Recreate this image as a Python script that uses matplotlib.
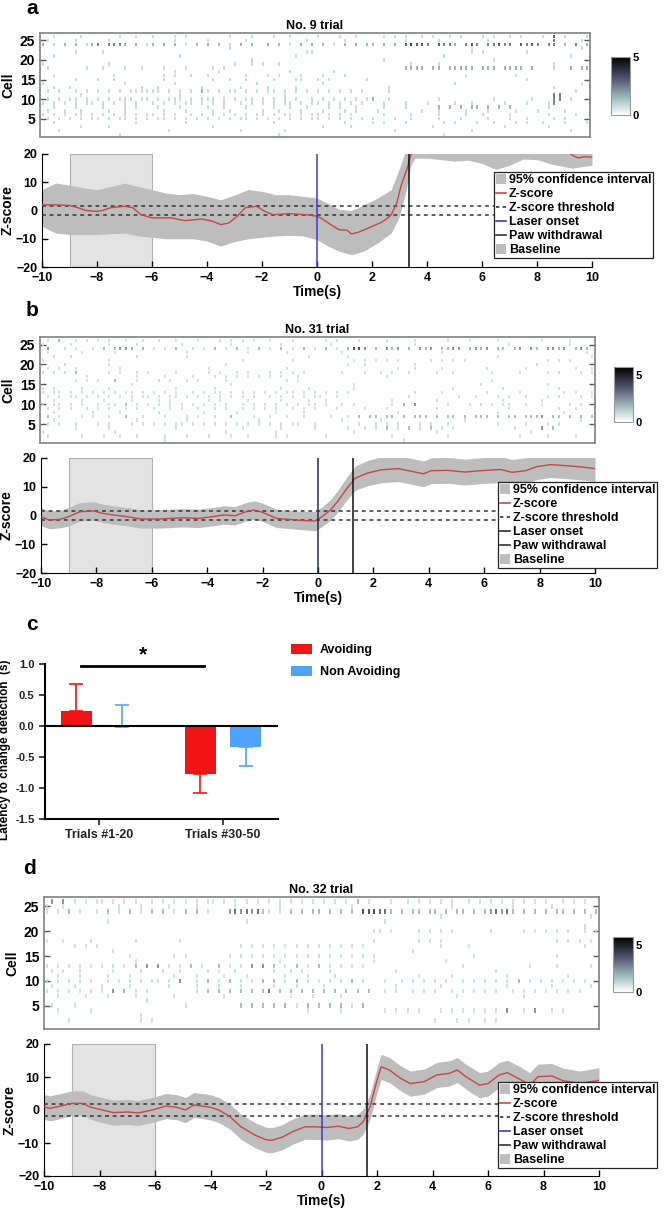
import numpy as np
import matplotlib
matplotlib.use("Agg")
import matplotlib.pyplot as plt
from matplotlib.patches import Patch, Rectangle
from matplotlib.lines import Line2D
from matplotlib.colors import Normalize

plt.rcParams['font.family'] = ['Liberation Sans', 'DejaVu Sans']
plt.rcParams['font.weight'] = 'bold'
plt.rcParams['axes.labelweight'] = 'bold'

W, H = 666, 1213

# ---------------- raster data (rows: cell 26 at top ... cell 1 at bottom; 100 bins of 0.2 s) -------------
raster_a = [
    "..1....1.. ....1..1.. 1...1.1... ....1...1. ..1..1.... 1...1..1.. ..1.1.1..1 .1..1.1... 1.1..1.1.. .1.4.1...1",
    ".1....1... ..1....... ....1..... 1......1.. ........1. .....1.... ......1... ..1....... .1........ ...3....1.",
    "2.1.2.2.12 3.3332.2.1 2.2.2.1.2. 2.2.1.2.2. .2.2.1.2.2 .2.1.2.2.2 2.2.2.4544 3.4332.343 .33433.434 3.33.2.3.2",
    ".......... .......... .......... ....1..... .......... .......... .......... ........1. .......... ........1.",
    "......1... .1........ .......... .......... ........11 .......... .......... ........1. 1.......1. ..........",
    "..1....... .......... .....1.... .......... ......1... .......... .......... ...1...... .......... ......1...",
    ".......... .......... .......... ........1. .......... .......... ..1....... .......... ..1....... ..........",
    "1......... ..1....... .......... .....1..1. 1..1...... .......... .......1.. ..1....... .......... ...1......",
    ".1......1. .1...1..1. ..1...1... .1.1...... .......... .......... ......2222 .22.22222. 222.2222.2 ...1..2.22",
    ".......... .......... ....1..... ..1....... .....1.... ...1...... .......... .......... .......... ..........",
    "..1....... ...1...... ..1.1..1.. 1......1.. .1.1...1.. .1...1.... .......... .......1.. ......1... ..........",
    "......1... 1..1...... ..1....... .1..1..1.. ..1...11.. 1.1......1 .......... .......... ........1. ..........",
    "1......... .....1.... ....1..... .........1 .......... .1........ .......... .....1.... .......... ........1.",
    "..1..1.... ........1. .1.......1 ......1... .1....1... .......... ...1...... .......... .......... ...1......",
    ".1.1..1.1. 1.1.1.1111 11.1.1.1.2 1.1.11.1.1 .11.1.1.1. 1.1.1.1.1. ...1...... .......... .......... .......1..",
    ".......1.. .......... .....1.... .......... ....1..... .......... .......... .......... .......... ...33.....",
    ".1.1.11.1. 1.1.111.11 .1.111.1.1 11.1.1.11. 1.1.1.1..1 .1.1.1.1.1 2..1...... ..1....... ..1......1 ...33.1...",
    "1.1.1.1.11 .1.1.1.1.. 1.1.1.11.1 .1.1..1.1. 1.1.11.1.1 1.1.1.1.1. ..1...1... 1....1..1. ....1...1. ..13......",
    "..1...1... .1...1.1.. .1...1.... 1..1...1.. ..1..1..1. ..1.1..1.. ..1...1... ..2.2.2.22 .2.2.2.... ..1.......",
    ".1..1..1.. ..1..1.... ..1...1... .1..1..... 1..1...1.. .1...1.1.. .1.......1 ..1....1.. .1....1... 1....1....",
    "1.1.1.11.1 .1.1.1.1.1 1.1.1..1.1 .1.1.1.1.1 1.1.11.1.1 1.1.1.1... ..1....1.. ..1....1.. 1....1.... ..1....1..",
    ".1.1.1.1.1 1.1.11.1.1 .11.1.1.1. 1.1.1.11.1 .1.1.1.1.1 1.1.1.1.1. 1...1..1.. ..1...1... .1...1..1. ...1.1....",
    "..1....... .......1.. ......1... .......... ..1....... .....1.... 1.1...1... ...1.1...1 ..1...1.1. .1...1...1",
    ".......1.. ..1....... .......... .1........ .......... .1....1... .......... .1........ ....1..... ..1.......",
    "...1...... .......... ...1...... ......1... ....1..... .......... ....1..... ........1. .......... ......1...",
    ".......... ....1..... .......... .......... ...1...... .......... .......... ...1...... .......... ..........",
]

raster_b = [
    ".1.2..1.1. 1.1..1..1. .1..1...1. ..1.1.1.1. .1...1.... .1.1...1.. ..1....1.. ...1...1.. ..1....... 1....1....",
    "1....1.... ..1....1.. .....1.... ....1..... ...1...... ..1....... .......1.. .......... ....1..... .....1....",
    ".3..1.1..1 .2.2332.2. 1.1.2..1.1 .2.1.2.1.2 .1.2.1.2.1 .2.1.2553. 2.323.2.32 3.2233.232 3.22.23.32 .3323.232.",
    ".1.....1.. ...1...... ......1... .......1.. ....1..... ....1..... .......... ..1....... .......... ........1.",
    "..1..1.... .......1.. ......1... .......... ........1. .....1.... .......... .......... ..1....... .........1",
    "1......... ..1....... .......... ......1... .....1.... ......1.1. 1.1.1..... 1.1.1.1... .......... .1.1.1....",
    "....1..... ..1....... .......... ...1...... .......... .....1..1. .......1.. .......... .........1 ..........",
    ".1.1..1... ....1..... .......... 1......... ....1..... .......... ....1..1.. ..1....... 1......1.. ......1..1",
    "1.1.1.2... ..1.1..1.1 ....1..... 1.1..1.1.. .1.1.1.1.. ....1...1. .1.1..1... .1..1..... .1....1... .1.1...1.1",
    "........1. .......1.. ..1....1.. .1.1.1.1.1 .1.1..1... .......... ..1....... .......... .......... ..........",
    "......1.1. 1..2...1.. .1.1..1.1. ...1...... ....1.1... .......... .......... .......... .1........ ..........",
    ".......... ......1... .......... ....1..... .......... ......1... .......... .........1 .......... .1........",
    "1.1....1.. ..1....... ....1..... .1........ ...1....1. ......1... .......... ....1..... ...1...... ...1......",
    "1.11.1.1.1 .1.1.11.1. 1.1.1..1.1 .11.1.1.1. 1.1.11.1.1 .1.1.1.... .......1.. ..1....... 1.....1... ....1.1..1",
    ".1.1.11.1. 1.1.1.1.11 .1.11.1.1. 1.1.1.1.1. .1.1.1.1.1 1..1...... ......1... .....1..1. ..1.1..1.. .1.1...1.1",
    "..1....1.. .1....1... .1.1...... 1.1....1.. ...1....1. .1........ ...1...... .1........ ...1...... 1.........",
    "1.11.1.1.. 1.11.2.1.1 .1.1.1.1.1 .1.1..1.1. 1.1.1.1.11 .1..1.1... ...1.2.3.. ...1...1.1 .1.11..1.. 1....1.1..",
    ".1.1.1..1. 1.1..1.1.. 1..1.1..1. .1.1..1.1. 1.1..1.1.1 ...1....1. ..1....... .1........ ....1..... ...1..1...",
    "..1......1 ....1..... .1.......1 .....1.... ..1....1.. .......... ....1..... .......... ..1....... ....1.....",
    ".2.1...1.1 ..1..2..1. ..1...1.1. .1..2...1. .1..1..1.. ..1..1.2.2 2.22.2.222 .2.22.2.22 2.2.22.222 3.22.2.2.2",
    "..1....... .......1.. ......1... .........1 .......... ....1..... .1........ ......1... .......... .......1..",
    ".1.1..1... 1.1...1.1. 1.1.11.1.1 .1.1.1.1.1 .1.1.11..1 .......1.. 1.1.1...1. 1..1...... ..1....1.. .1.1......",
    "......1... ..1....... ....1..... ......1... ...1.....1 .....1..1. 1.2.1.2.1. 2.1.1..... .....1.... 3.2.......",
    "1......... ...1...... .......... ...1...... ..1....... ......1... .......... .1........ ........1. ..........",
    ".1.....1.. .1..1..1.. ..1...1... 1...1..1.. ..1.1..... .1........ ...1...... ...1...... ......1... .1....1...",
    ".......... .......... ..1....... .......... .......... .......... .....1.... .......... .......... ..........",
]

raster_d = [
    ".3.3.1.1.1 1.1.1.1..1 .1.1.1.1.1 1.1.1.1.1. 1.1.1.1.1. 1.1.1.2.1. ..1..1.1.1 .1.1..1.1. 1.1.1.1.1. 1..1.1.1..",
    "1..1...... ...1...1.. ..1....1.. ....1..... ..1....... .....1.... .......... ...1...... ....1..... .1........",
    "1.1.2.1..1 .2.1.2.1.2 .2.1.2.2.1 ...3434342 1.1.2.2.22 .2.2.2.555 442.2.22.2 2.2.22.2.2 34342.2.2. 2.22.2.2.2",
    ".......... .......... .......... .......... .......... .......... .......... .1........ .......... ........1.",
    ".......... .1........ .......... ......1... .......... .......... .1........ .......... .......... ..........",
    ".......... .......... .......... .......... .......... .......... .......... .......... .......... .......1..",
    ".......... .......... .......... .......... .......... .........1 1.1....1.1 .1.1...... 1.....1.1. 1.1.1..1.1",
    ".......... .......... .......... .......... .......... .......... .......... .......... .......... ..........",
    "1..1....1. ......1... ....1..... .......... .......... .........1 .......1.1 .1........ .......... ..1.1.1.1.",
    ".....1.1.1 .......... .......... .....1.1.1 .1.1.1.1.1 .1.1.1.1.. .......... .1....1... .......... .......1..",
    ".......... ..1....... .......... .......... .......... .......... ......1... .......... .......... ..........",
    ".......... .....1.... ...1.1.... ...1.1.1.1 .1.1.1.1.1 .1.1.1.1.1 .......... .......1.. .......... ..1.......",
    ".......... ......1... .......... .......... ..1....... .........1 .......... ..1....... .......... ..........",
    "1.1.1.1.1. 1.1.1.2.3. 3.1.1.2.1. .2.1.1.3.3 .2.1.2.1.2 .1.1.1.1.. .......... .....1.... .......1.. ..1.....1.",
    ".1.1..1... ..1....1.. .1..1....1 .1..1..... .1..1.1... .1........ ...1...... .......... .1........ ..........",
    "..1...1... .1...1.... ...1...1.. ..1...1... ...1...1.. ..1....... .......1.. ...1...... ...1...... ....1.....",
    "1.1.1.1.1. .1.1.1.1.1 1.1.3..1.2 .1.2.1.1.2 .2.1.2.1.1 .1.1.2.1.. .1..1.1.1. 1.1..1.1.1 .1.1.2.1.1 .1.1.1.1..",
    ".1...1.... 1....1.... ..1....1.. .1...1.... .1...1.... 1......... ...1...... .1........ ...1...... .1......1.",
    "1.1.1.1.1. 1.3.2.1.1. .......1.2 .2.2.2.2.2 4.2.2.2.2. 2.2.2.2.2. .1.1..1.1. 1..1.1.1.1 .1..1.1.1. 1.1.1.1...",
    "..1....1.. .1....1... ...1...... ..1....... ....1...1. ...1...... .......... ....1..... ......1... ..........",
    ".......... ........1. .......... .......... .......... .......... .......... .......... .......... ..........",
    ".1...1.... .......... .....1.... .....2.2.2 .2.2.1.2.2 .2.2.1.2.. .......... .......... .......... ..........",
    "..1.....1. .......... .......... .......... .......1.. ...1...... .1.1.1.1.. .1.1.1.1.1 .1.3..1.3. .1.1......",
    ".......... .......1.. .......... .......... .......... .......... .......... .......... .......... ..........",
    "....1..... .......1.1 .......... .......... .......... .......... .......... 1...1.1..1 .1........ ..........",
    ".......... .......... .......... .......... .......... .......... .......... .......... .......... ..........",
]

# ---------------- z-score traces ----------------
t_a = [-10, -9.5, -9, -8.7, -8.4, -8, -7.8, -7.5, -7, -6.7, -6.4, -6, -5.3, -4.8, -4.2, -3.8, -3.5, -3.2,
       -2.9, -2.6, -2.2, -1.9, -1.6, -1, -0.4, 0, 0.2, 0.5, 0.8, 1.1, 1.25, 1.5, 1.8, 2.3, 2.5, 2.7, 2.9,
       3.05, 3.3, 3.45, 3.6, 4, 5, 6, 6.5, 7, 7.5, 8, 8.7, 9.1, 9.3, 9.5, 9.7, 9.9, 10]
z_a = [2, 2, 1.8, 1, 0, -0.3, 0, 1, 1.5, 1, -1.5, -2.6, -2.6, -3.6, -3, -3.8, -5, -4.4,
       -2, 1, 1.5, -0.3, -1.5, -1.1, -1.5, -2, -3, -5, -6.8, -7, -8.3, -7.7, -6.5, -4.4, -3.2, -1.5, 2.6,
       8.5, 15.6, 21, 24, 26, 27, 27, 26, 25, 26, 27, 24, 21, 19.5, 18.6, 19, 19, 18.8]
ci_t_a = [-10, -9.5, -9, -8.5, -8, -7.5, -7, -6.5, -6, -5.5, -5, -4.5, -4, -3.5, -3, -2.5, -2, -1.5, -1,
          -0.5, 0, 0.4, 0.8, 1.25, 1.7, 2.2, 2.7, 3.0, 3.25, 3.4, 3.55, 4, 5, 5.5, 6, 6.5, 7, 7.5, 8, 8.5,
          9, 9.3, 9.6, 10]
ci_lo_a = [-5.6, -8, -8.5, -8.5, -8.5, -8.2, -8, -9, -9.5, -10, -10, -10, -10.8, -12.6, -11, -10, -9.5, -9, -8.8,
           -9, -10.3, -12.6, -14.4, -15.6, -14.4, -11.5, -8, -2, 7.4, 15.6, 18.5, 18.5, 17.5, 17.8, 16.7, 14.5, 16,
           18.2, 18, 16.5, 15.5, 15, 15.5, 16]
ci_hi_a = [7.4, 9.7, 9, 8, 7.4, 8.5, 9.7, 8.5, 7.4, 6.2, 5.6, 6, 5, 3.8, 5.5, 7.4, 6.8, 5.6, 5.6,
           5, 4.4, 2.5, 0.5, 0, 2, 4.4, 7.4, 15, 22, 25, 26, 27, 27, 27, 27, 27, 27, 27, 27, 27,
           26, 25, 24, 23]

t_b = [-10, -9.7, -9.3, -9, -8.6, -8.1, -7.8, -7.4, -6.9, -6.4, -5.7, -4.9, -4.3, -3.8, -3.4, -3.0, -2.6,
       -2.3, -2.0, -1.5, -1.1, -0.5, -0.1, 0.15, 0.45, 0.75, 1.05, 1.35, 1.8, 2.3, 2.9, 3.5, 3.8, 4.1, 4.7,
       5.3, 5.9, 6.6, 7.0, 7.5, 7.9, 8.4, 9.0, 9.6, 10]
z_b = [-0.4, -1.6, -1.3, -0.4, 1.3, 1.6, 0.8, 0.2, -0.4, -1.2, -1.2, -0.8, -1.0, -0.4, 0.2, -0.1, 1.3,
       1.9, 1.1, -1.0, -1.3, -1.8, -1.9, -0.4, 1.9, 5.4, 9.5, 13, 14.8, 15.9, 16.3, 15.1, 14.5, 15.6, 15.7,
       15.1, 15.6, 16, 15, 15.6, 17, 17.7, 17.3, 16.8, 16.3]
ci_lo_b = [-3.6, -4.6, -4.3, -3.6, -1.9, -1.6, -2.4, -3.0, -3.6, -4.4, -4.4, -4.0, -4.2, -3.6, -3.0, -3.3, -1.9,
           -1.3, -2.1, -4.2, -4.5, -5.0, -5.3, -3.8, -1.7, 1.6, 5.5, 8.8, 10.4, 11.4, 11.8, 10.6, 10.0, 11.1, 11.2,
           10.6, 11.1, 11.5, 10.5, 11.1, 12.5, 13.2, 12.8, 12.3, 11.8]
ci_hi_b = [2.8, 1.6, 1.9, 2.8, 4.5, 4.8, 4.0, 3.4, 2.8, 2.0, 2.0, 2.4, 2.2, 2.8, 3.4, 3.1, 4.5,
           5.1, 4.3, 2.2, 1.9, 1.4, 1.5, 3.0, 5.5, 9.2, 13.5, 17.2, 19.2, 20.4, 20.8, 19.6, 19.0, 20.1, 20.2,
           19.6, 20.1, 20.5, 19.5, 20.1, 21.5, 22.2, 21.8, 21.3, 20.8]

t_d = [-10, -9.8, -9.5, -9.0, -8.6, -8.3, -7.9, -7.5, -7.0, -6.6, -6.1, -5.6, -5.2, -4.9, -4.6, -4.3, -4.0,
       -3.7, -3.3, -2.9, -2.4, -2.0, -1.8, -1.4, -1.05, -0.6, -0.2, 0.2, 0.6, 1.0, 1.3, 1.5, 1.75, 2.0, 2.15,
       2.45, 2.85, 3.2, 3.7, 4.15, 4.6, 4.9, 5.2, 5.7, 6.0, 6.4, 6.7, 7.2, 7.5, 7.8, 8.3, 8.7, 9.3, 10]
z_d = [1, 0.5, 1, 2, 2, 0.8, 0, -0.8, -0.6, -0.9, 0, 1.2, 0.8, 0, 1.5, 1.2, 0.8,
       0, -2, -5.1, -7.6, -9, -9.2, -8.2, -6.6, -5.1, -5.1, -5.3, -4.9, -5.6, -5.1, -3.6, 1, 9, 13.1,
       12.1, 9.6, 8, 8.6, 10.6, 11.1, 12.1, 10.1, 7.5, 8, 10.6, 11.3, 9.1, 7.5, 10.1, 10.3, 8.9, 8, 9]
ci_lo_d = [-2.8, -3.3, -2.8, -1.6, -1.6, -2.9, -3.8, -4.6, -4.4, -4.7, -3.8, -2.6, -3.0, -3.8, -2.3, -2.6, -3.0,
           -3.8, -5.8, -8.9, -11.4, -12.8, -13.0, -12.0, -10.4, -8.9, -8.9, -9.1, -8.7, -9.4, -8.9, -7.4, -2.8, 5.2, 9.3,
           8.3, 5.8, 4.2, 4.8, 6.8, 7.3, 8.3, 6.3, 3.7, 4.2, 6.8, 7.5, 5.3, 3.7, 6.3, 6.5, 5.1, 4.2, 5.2]
ci_hi_d = [4.8, 4.3, 4.8, 5.8, 5.8, 4.6, 3.8, 3.0, 3.2, 2.9, 3.8, 5.0, 4.6, 3.8, 5.3, 5.0, 4.6,
           3.8, 1.8, -1.3, -3.8, -5.2, -5.4, -4.4, -2.8, -1.3, -1.3, -1.5, -1.1, -1.8, -1.3, 0.2, 4.8, 12.8, 16.9,
           15.9, 13.4, 11.8, 12.4, 14.4, 14.9, 15.9, 13.9, 11.3, 11.8, 14.4, 15.1, 12.9, 11.3, 13.9, 14.1, 12.7, 11.8, 12.8]

paw_withdrawal = {'a': 3.35, 'b': 1.25, 'd': 1.65}
laser_onset = 0.0
threshold = 1.7
baseline_window = (-9, -6)
trial_titles = {'a': 'No. 9 trial', 'b': 'No. 31 trial', 'd': 'No. 32 trial'}
cbar_max = {'a': 5.0, 'b': 5.8, 'd': 5.8}

# ---------------- bar chart data ----------------
groups = ['Trials #1-20', 'Trials #30-50']
avoiding = [0.25, -0.78]
avoiding_err_lo = [0.0, 0.30]
avoiding_err_hi = [0.43, 0.0]
non_avoiding = [-0.02, -0.34]
non_avoiding_err_lo = [0.0, 0.31]
non_avoiding_err_hi = [0.36, 0.0]

# ---------------- figure ----------------
fig = plt.figure(figsize=(W / 100, H / 100), dpi=100)


def add_ax(l, t, r, b):
    return fig.add_axes([l / W, 1 - b / H, (r - l) / W, (b - t) / H])


cmap = plt.get_cmap('bone_r')
FS = 9


def draw_raster(box, cbox, rows, title, vmax):
    ax = add_ax(*box)
    norm = Normalize(0, vmax)
    ncell = len(rows)
    for i, row in enumerate(rows):
        cell = ncell - i
        s = row.replace(' ', '')
        s = (s + '.' * 100)[:100]
        for c, ch in enumerate(s):
            if ch != '.':
                v = int(ch)
                tt = -10 + 0.2 * c + 0.1
                ax.vlines(tt, cell - 0.45, cell + 0.45, color=cmap(norm(v)), lw=1.1)
    ax.set_xlim(-10, 10)
    ax.set_ylim(0.3, 26.9)
    ax.set_xticks([])
    ax.set_yticks([5, 10, 15, 20, 25])
    ax.tick_params(axis='y', direction='in', length=4, right=True, labelsize=FS + 1, width=1, color='#555555')
    for sp in ax.spines.values():
        sp.set_color('#8a8a8a')
        sp.set_linewidth(1.3)
    ax.set_ylabel('Cell', fontsize=FS + 1, labelpad=3)
    ax.set_title(title, fontsize=FS, fontweight='bold', pad=3)
    cax = add_ax(*cbox)
    sm = plt.cm.ScalarMappable(norm=norm, cmap=cmap)
    cb = fig.colorbar(sm, cax=cax, ticks=[0, 5])
    cb.outline.set_edgecolor('#999999')
    cb.outline.set_linewidth(0.8)
    cax.tick_params(length=0, labelsize=FS - 1, pad=2)
    return ax


def draw_z(box, t, z, ci_t, lo, hi, paw, laser_color, leg_xy):
    ax = add_ax(*box)
    ax.add_patch(Rectangle((baseline_window[0], -20), baseline_window[1] - baseline_window[0], 40,
                           facecolor='#e3e3e3', edgecolor='#b0b0b0', lw=0.8, zorder=1))
    ax.fill_between(ci_t, lo, hi, color='#bdbdbd', lw=0, zorder=2)
    ax.plot(t, z, color='#cc4444', lw=1.0, zorder=4)
    ax.axhline(threshold, color='#333333', ls=(0, (2.5, 2.5)), lw=1.1, zorder=3)
    ax.axhline(-threshold, color='#333333', ls=(0, (2.5, 2.5)), lw=1.1, zorder=3)
    ax.axvline(laser_onset, color=laser_color, lw=1.1, zorder=5)
    ax.axvline(paw, color='#111111', lw=1.1, zorder=5)
    ax.set_xlim(-10, 10)
    ax.set_ylim(-20, 20)
    ax.set_xticks(range(-10, 11, 2))
    ax.set_yticks([-20, -10, 0, 10, 20])
    ax.tick_params(direction='in', length=4, labelsize=FS, width=1)
    ax.spines['top'].set_visible(False)
    ax.spines['right'].set_visible(False)
    ax.set_xlabel('Time(s)', fontsize=FS + 1, labelpad=1)
    ax.set_ylabel('Z-score', fontsize=FS + 1, labelpad=1)
    handles = [Patch(facecolor='#bdbdbd', edgecolor='none'),
               Line2D([], [], color='#cc4444', lw=1.2),
               Line2D([], [], color='#333333', lw=1.2, ls=(0, (2, 2))),
               Line2D([], [], color=laser_color, lw=1.2),
               Line2D([], [], color='#333333', lw=1.2),
               Patch(facecolor='#bdbdbd', edgecolor='none')]
    labels = ['95% confidence interval', 'Z-score', 'Z-score threshold', 'Laser onset',
              'Paw withdrawal', 'Baseline']
    leg = ax.legend(handles, labels, loc='upper left', bbox_to_anchor=(leg_xy[0] / W, 1 - leg_xy[1] / H),
                    bbox_transform=fig.transFigure, fontsize=FS, frameon=True, fancybox=False,
                    edgecolor='#222222', framealpha=1, borderpad=0.15, labelspacing=0.12,
                    handlelength=0.8, handleheight=0.9, handletextpad=0.25, borderaxespad=0)
    leg.get_frame().set_linewidth(0.9)
    leg.set_zorder(10)
    return ax


# panel a
draw_raster((40, 33, 590, 137), (611, 57, 630, 115), raster_a, trial_titles['a'], cbar_max['a'])
draw_z((42, 154, 592, 267), t_a, z_a, ci_t_a, ci_lo_a, ci_hi_a, paw_withdrawal['a'], '#3a3acc', (494, 172))

# panel b
draw_raster((40, 337, 595, 443), (614, 367, 633, 422), raster_b, trial_titles['b'], cbar_max['b'])
draw_z((41, 458, 595, 573), t_b, z_b, t_b, ci_lo_b, ci_hi_b, paw_withdrawal['b'], '#2a2a55', (498, 482))

# panel d
draw_raster((44, 897, 599, 1029), (613, 937, 633, 992), raster_d, trial_titles['d'], cbar_max['d'])
draw_z((44, 1044, 599, 1176), t_d, z_d, t_d, ci_lo_d, ci_hi_d, paw_withdrawal['d'], '#3a3acc', (498, 1082))

# panel c
axc = add_ax(45, 664, 278, 819)
xg = np.arange(len(groups))
off, bw = 0.185, 0.25
red, blue = '#f01414', '#4da3ff'
axc.bar(xg - off, avoiding, bw, color=red, zorder=2)
axc.bar(xg + off, non_avoiding, bw, color=blue, zorder=2)
axc.errorbar(xg - off, avoiding, yerr=[avoiding_err_lo, avoiding_err_hi], fmt='none', ecolor=red,
             elinewidth=1.2, capsize=5, capthick=1.2, zorder=3)
axc.errorbar(xg + off, non_avoiding, yerr=[non_avoiding_err_lo, non_avoiding_err_hi], fmt='none',
             ecolor=blue, elinewidth=1.2, capsize=5, capthick=1.2, zorder=3)
axc.axhline(0, color='black', lw=1.5, zorder=4)
axc.set_xlim(-0.435, 1.444)
axc.set_ylim(-1.5, 1.0)
axc.set_yticks([-1.5, -1.0, -0.5, 0.0, 0.5, 1.0])
axc.set_yticklabels(['-1.5', '-1.0', '-0.5', '0.0', '0.5', '1.0'])
axc.set_xticks(xg)
axc.set_xticklabels(groups)
axc.tick_params(direction='out', length=4, width=1.2, labelsize=FS - 1, colors='#222222')
axc.tick_params(axis='x', labelsize=FS)
axc.spines['top'].set_visible(False)
axc.spines['right'].set_visible(False)
axc.spines['left'].set_linewidth(1.5)
axc.spines['bottom'].set_linewidth(1.5)
axc.set_ylabel('Latency to change detection  (s)', fontsize=FS - 0.5)
axc.yaxis.set_label_coords(-(45 - 11) / 233, 0.45)
axc.plot([-0.145, 0.847], [0.97, 0.97], color='black', lw=2, clip_on=False)
axc.text(0.355, 1.15, '*', fontsize=15, ha='center', va='center', clip_on=False)
axc.legend([Patch(facecolor=red), Patch(facecolor=blue)], ['Avoiding', 'Non Avoiding'],
           loc='upper left', bbox_to_anchor=(291 / W, 1 - 644 / H), bbox_transform=fig.transFigure,
           frameon=False, fontsize=FS, handlelength=1.7, handleheight=0.9, labelspacing=0.75,
           handletextpad=0.6, borderaxespad=0, borderpad=0)

# panel letters
for lab, (x, y) in {'a': (32, 9), 'b': (32, 310), 'c': (32, 625), 'd': (30, 868)}.items():
    fig.text(x / W, 1 - y / H, lab, fontsize=15, fontweight='bold', ha='center', va='center')

fig.savefig('out.png', dpi=100)
